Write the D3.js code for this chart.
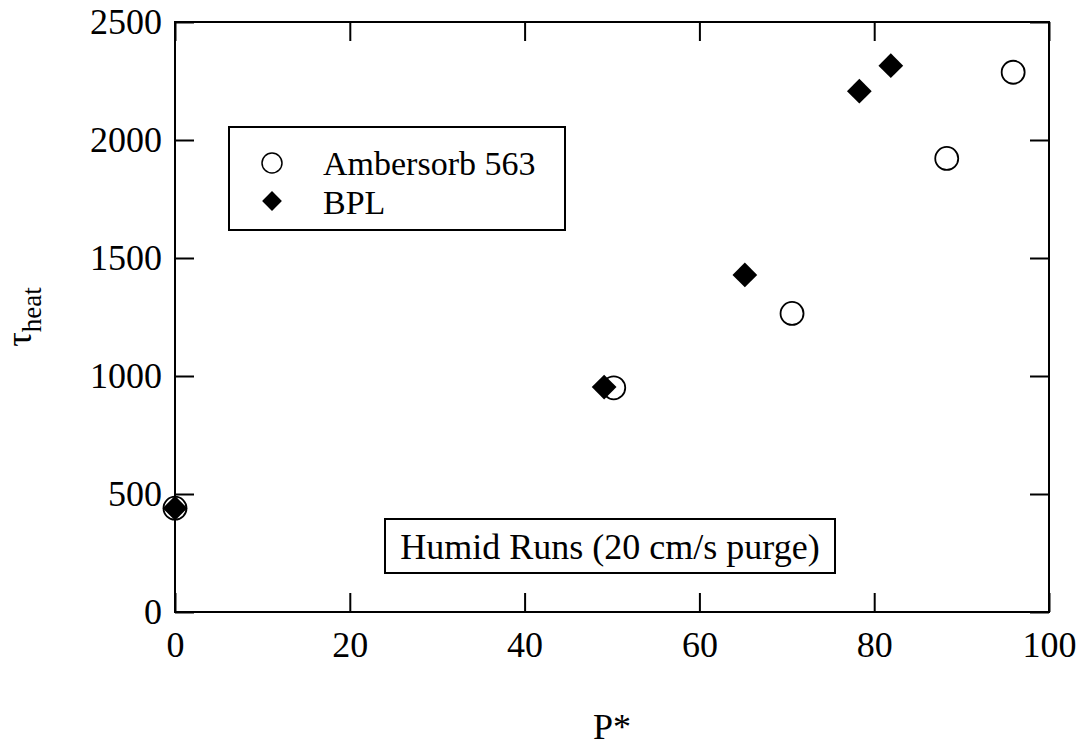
<!DOCTYPE html>
<html>
<head>
<meta charset="utf-8">
<script src="https://cdn.jsdelivr.net/npm/d3@7"></script>
<style>
  body { margin: 0; background: #fff; }
  text { font-family: "Liberation Serif", "Times New Roman", serif; fill: #000; }
</style>
</head>
<body>
<svg id="chart" width="1086" height="748"></svg>
<script>
// data
let amberP = [0, 50.2, 70.6, 88.3, 95.9];
let amberTau = [440, 950, 1265, 1922, 2287];
let bplP = [0, 49.1, 65.2, 78.3, 81.9];
let bplTau = [440, 953, 1428, 2207, 2315];
let xTicks = [0, 20, 40, 60, 80, 100];
let yTicks = [0, 500, 1000, 1500, 2000, 2500];
let seriesNames = ["Ambersorb 563", "BPL"];

let svg = d3.select("#chart");
let plotL = 175, plotR = 1049, plotT = 22, plotB = 612;

let x = d3.scaleLinear().domain([0, 100]).range([plotL, plotR]);
let y = d3.scaleLinear().domain([0, 2500]).range([plotB, plotT]);

// axes, ticks pointing inward
svg.append("g")
    .attr("transform", "translate(0," + plotB + ")")
    .call(d3.axisBottom(x).tickValues(xTicks).tickSize(-19).tickPadding(19).tickFormat(d3.format("d")));
svg.append("g")
    .attr("transform", "translate(" + plotL + ",0)")
    .call(d3.axisLeft(y).tickValues(yTicks).tickSize(-19).tickPadding(13).tickFormat(d3.format("d")));
svg.append("g")
    .attr("transform", "translate(0," + plotT + ")")
    .call(d3.axisTop(x).tickValues(xTicks).tickSize(-19).tickFormat(""));
svg.append("g")
    .attr("transform", "translate(" + plotR + ",0)")
    .call(d3.axisRight(y).tickValues(yTicks).tickSize(-19).tickFormat(""));

svg.selectAll(".domain").remove();
svg.selectAll(".tick line").attr("stroke", "#000").attr("stroke-width", 2);
svg.selectAll(".tick text")
    .style("font-family", '"Liberation Serif", "Times New Roman", serif')
    .attr("font-size", 36)
    .attr("fill", "#000");

// frame
svg.append("rect")
    .attr("x", plotL).attr("y", plotT)
    .attr("width", plotR - plotL).attr("height", plotB - plotT)
    .attr("fill", "none").attr("stroke", "#000").attr("stroke-width", 2);

// axis titles
svg.append("text")
    .attr("x", (plotL + plotR) / 2).attr("y", 739)
    .attr("text-anchor", "middle").attr("font-size", 36)
    .text("P*");

let yl = svg.append("text")
    .attr("transform", "translate(31," + ((plotT + plotB) / 2) + ") rotate(-90)")
    .attr("text-anchor", "middle").attr("font-size", 36);
yl.append("tspan").text("τ");
yl.append("tspan").attr("font-size", 27).attr("dy", 10).text("heat");

// markers
let diamond = d3.symbol().type(d3.symbolSquare);

svg.append("g").selectAll("circle")
    .data(amberP.map((p, i) => [p, amberTau[i]]))
    .enter().append("circle")
    .attr("cx", d => x(d[0])).attr("cy", d => y(d[1]))
    .attr("r", 11.5)
    .attr("fill", "#fff").attr("stroke", "#000").attr("stroke-width", 1.8);

svg.append("g").selectAll("path")
    .data(bplP.map((p, i) => [p, bplTau[i]]))
    .enter().append("path")
    .attr("d", diamond.size(17.5 * 17.5))
    .attr("transform", d => "translate(" + x(d[0]) + "," + y(d[1]) + ") rotate(45)")
    .attr("fill", "#000");

// legend
let lg = svg.append("g");
lg.append("rect")
    .attr("x", 229).attr("y", 127).attr("width", 336).attr("height", 103)
    .attr("fill", "#fff").attr("stroke", "#000").attr("stroke-width", 2);
lg.append("circle")
    .attr("cx", 272).attr("cy", 163).attr("r", 10)
    .attr("fill", "#fff").attr("stroke", "#000").attr("stroke-width", 1.5);
lg.append("path")
    .attr("d", d3.symbol().type(d3.symbolSquare).size(14 * 14)())
    .attr("transform", "translate(272,201) rotate(45)")
    .attr("fill", "#000");
lg.selectAll("text.lab")
    .data(seriesNames)
    .enter().append("text")
    .attr("class", "lab")
    .attr("x", 323).attr("y", (d, i) => 175 + i * 39)
    .attr("font-size", 34)
    .text(d => d);

// note box
svg.append("rect")
    .attr("x", 385).attr("y", 519).attr("width", 450).attr("height", 54)
    .attr("fill", "#fff").attr("stroke", "#000").attr("stroke-width", 2);
svg.append("text")
    .attr("x", 610).attr("y", 559)
    .attr("text-anchor", "middle").attr("font-size", 36)
    .text("Humid Runs (20 cm/s purge)");
</script>
</body>
</html>
